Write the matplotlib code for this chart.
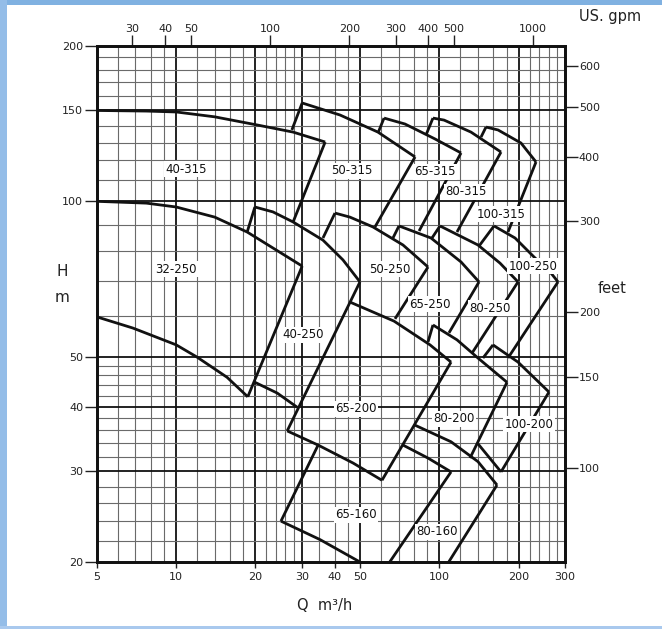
import matplotlib.pyplot as plt
from matplotlib.ticker import NullLocator
from matplotlib.patches import Rectangle

# pump selection chart, Q in m3/h and H in m (log-log)
q_ticks = [5, 10, 20, 30, 40, 50, 100, 200, 300]
h_ticks = [20, 30, 40, 50, 100, 150, 200]
gpm_ticks = [30, 40, 50, 100, 200, 300, 400, 500, 1000]
feet_ticks = [100, 150, 200, 300, 400, 500, 600]

grid_q_bold = [10, 20, 30, 50, 100, 200]
grid_q_thin = [6, 7, 8, 9, 12, 14, 16, 18, 22, 24, 26, 28, 35, 40, 45,
               60, 70, 80, 90, 120, 140, 160, 180, 220, 240, 260, 280]
grid_h_bold = [30, 40, 50, 100, 150]
grid_h_thin = [22, 24, 26, 28, 32, 34, 36, 38, 42, 44, 46, 48,
               60, 70, 80, 90, 110, 120, 130, 140, 160, 170, 180, 190]

GPM = 4.4029   # US gpm per m3/h
FT = 3.28084   # feet per m

# each pump: list of polylines (Q, H) as they are visible in the chart
pump_40_315 = [
    [(5, 150), (7.7, 149.6), (10, 149), (14, 145.8), (20.3, 140.6), (27.8, 136.2), (36.8, 130.3)],
    [(36.8, 130.3), (27.8, 91.2)],
]
pump_32_250 = [
    [(5, 100), (7.7, 99.2), (10, 97.5), (14, 93.2), (18.6, 87.2), (30.1, 74.9)],
    [(30.1, 74.9), (18.7, 41.8)],
    [(5, 59.7), (6.85, 56.8), (10, 52.7), (12, 49.9), (15.6, 45.6), (18.7, 41.8)],
]
pump_40_250 = [
    [(18.6, 87.2), (19.9, 97.5)],
    [(19.9, 97.5), (23.3, 95.4), (27.8, 91.2), (36.1, 84.1), (43.0, 77.0), (49.9, 69.8)],
    [(49.9, 69.8), (26.4, 35.9)],
    [(19.9, 44.6), (24.2, 42.5), (28.8, 39.9)],
]
pump_50_315 = [
    [(27.5, 137.5), (30.1, 155.1)],
    [(30.1, 155.1), (41.9, 147.0), (58.4, 136.2), (80.8, 121.9)],
    [(80.8, 121.9), (56.9, 89.2)],
]
pump_65_315 = [
    [(58.4, 135.6), (61.6, 145.0)],
    [(61.6, 145.0), (74.0, 141.2), (96.2, 132.1), (120.8, 124.1)],
    [(120.8, 124.1), (83.7, 87.6)],
]
pump_80_315 = [
    [(88.9, 134.4), (94.5, 145.0)],
    [(94.5, 145.0), (104.1, 143.7), (131.8, 136.2), (171.4, 124.6)],
    [(171.4, 124.6), (116.6, 87.2)],
]
pump_100_315 = [
    [(143.9, 133.2), (150.3, 139.3)],
    [(150.3, 139.3), (167.0, 137.5), (204.2, 129.7), (232.8, 119.2)],
    [(232.8, 119.2), (182.2, 87.2)],
]
pump_50_250 = [
    [(36.1, 84.9), (40.1, 94.9)],
    [(40.1, 94.9), (45.7, 93.2), (55.9, 89.2), (72.7, 82.3), (90.5, 74.6)],
    [(90.5, 74.6), (67.8, 59.2)],
]
pump_65_250 = [
    [(66.6, 84.9), (70.2, 89.6)],
    [(70.2, 89.6), (92.9, 84.9), (120.8, 76.3), (141.4, 69.8)],
    [(141.4, 69.8), (108.7, 55.6)],
]
pump_80_250 = [
    [(93.7, 84.9), (100.5, 89.6)],
    [(100.5, 89.6), (140.1, 82.3), (169.9, 75.9), (198.9, 69.8)],
    [(198.9, 69.8), (133.0, 50.8)],
]
pump_100_250 = [
    [(141.4, 81.9), (161.2, 89.6)],
    [(161.2, 89.6), (193.8, 84.9), (228.8, 78.0), (265.4, 72.6), (282.2, 69.8)],
    [(282.2, 69.8), (182.2, 49.7)],
]
pump_65_200 = [
    [(45.7, 63.8), (67.2, 58.6), (92.1, 52.7), (110.7, 48.8)],
    [(110.7, 48.8), (60.5, 28.8)],
    [(26.4, 35.9), (34.6, 33.7), (47.0, 31.1), (60.5, 28.8)],
]
pump_80_200 = [
    [(90.5, 53.4), (94.5, 57.6)],
    [(94.5, 57.6), (116.6, 53.9), (140.1, 49.7), (180.6, 44.6)],
    [(180.6, 44.6), (130.7, 31.8)],
]
pump_100_200 = [
    [(146.4, 49.7), (159.8, 52.7)],
    [(159.8, 52.7), (198.9, 48.8), (260.8, 42.7)],
    [(260.8, 42.7), (171.4, 29.9)],
    [(140.1, 33.9), (171.4, 29.9)],
]
pump_65_160 = [
    [(25.0, 24.0), (34.6, 33.7)],
    [(25.0, 24.0), (35.2, 22.1), (49.9, 20.0)],
    [(72.7, 33.7), (90.5, 31.8), (110.7, 29.9)],
    [(110.7, 29.9), (64.3, 19.9)],
]
pump_80_160 = [
    [(80.1, 36.9), (110.7, 34.2), (140.1, 31.3), (165.5, 28.2)],
    [(165.5, 28.2), (107.8, 19.9)],
]

label_names = ["40-315", "32-250", "50-315", "65-315", "80-315", "100-315",
               "50-250", "65-250", "80-250", "100-250", "40-250",
               "65-200", "80-200", "100-200", "65-160", "80-160"]
label_q = [10.9, 10.0, 46.5, 96.2, 126.2, 171.4, 64.9, 92.1, 155.7, 226.8, 30.3,
           48.2, 113.6, 218.9, 48.2, 97.9]
label_h = [115.5, 73.9, 114.5, 114.0, 104.3, 94.5, 73.9, 63.2, 62.1, 74.9, 55.1,
           39.6, 37.9, 37.0, 24.7, 22.9]

pumps = [pump_40_315, pump_32_250, pump_40_250, pump_50_315, pump_65_315,
         pump_80_315, pump_100_315, pump_50_250, pump_65_250, pump_80_250,
         pump_100_250, pump_65_200, pump_80_200, pump_100_200, pump_65_160,
         pump_80_160]

W, H = 662, 629
fig = plt.figure(figsize=(W / 100, H / 100), dpi=100)
ax = fig.add_axes([97 / W, 1 - 562 / H, 468 / W, 516 / H])

ax.set_xscale("log")
ax.set_yscale("log")
ax.set_xlim(5, 300)
ax.set_ylim(20, 200)

for q in grid_q_thin:
    ax.axvline(q, color="#6a6a6a", lw=0.8, zorder=1)
for q in grid_q_bold:
    ax.axvline(q, color="#111111", lw=1.3, zorder=1)
for h in grid_h_thin:
    ax.axhline(h, color="#6a6a6a", lw=0.8, zorder=1)
for h in grid_h_bold:
    ax.axhline(h, color="#111111", lw=1.3, zorder=1)

for pump in pumps:
    for seg in pump:
        xs = [p[0] for p in seg]
        ys = [p[1] for p in seg]
        ax.plot(xs, ys, color="#111111", lw=2.0, solid_joinstyle="miter",
                solid_capstyle="butt", zorder=3)

for name, q, h in zip(label_names, label_q, label_h):
    ax.text(q, h, name, ha="center", va="center", fontsize=8.5, color="#111111",
            zorder=4, bbox=dict(facecolor="white", edgecolor="none", pad=1.2))

tick_col = "#222222"
ax.set_xticks(q_ticks, labels=[str(v) for v in q_ticks])
ax.set_yticks(h_ticks, labels=[str(v) for v in h_ticks])
ax.xaxis.set_minor_locator(NullLocator())
ax.yaxis.set_minor_locator(NullLocator())
ax.tick_params(axis="x", direction="out", length=4, width=1, labelsize=8,
               colors=tick_col, pad=3)
ax.tick_params(axis="y", direction="out", length=9, width=1, labelsize=8,
               colors=tick_col, pad=1)
for sp in ax.spines.values():
    sp.set_linewidth(1.8)
    sp.set_color("#111111")

ax_top = ax.twiny()
ax_top.set_xscale("log")
ax_top.set_xlim(5 * GPM, 300 * GPM)
ax_top.set_xticks(gpm_ticks, labels=[str(v) for v in gpm_ticks])
ax_top.xaxis.set_minor_locator(NullLocator())
ax_top.tick_params(axis="x", direction="out", length=8, width=1, labelsize=8,
                   colors=tick_col, pad=1)

ax_right = ax.twinx()
ax_right.set_yscale("log")
ax_right.set_ylim(20 * FT, 200 * FT)
ax_right.set_yticks(feet_ticks, labels=[str(v) for v in feet_ticks])
ax_right.yaxis.set_minor_locator(NullLocator())
ax_right.tick_params(axis="y", direction="out", length=9, width=1, labelsize=8,
                     colors=tick_col, pad=1)
for a in (ax_top, ax_right):
    for sp in a.spines.values():
        sp.set_linewidth(1.8)
        sp.set_color("#111111")

fig.text(62 / W, 1 - 271 / H, "H", ha="center", va="center", fontsize=11, color="#222222")
fig.text(62 / W, 1 - 297 / H, "m", ha="center", va="center", fontsize=11, color="#222222")
fig.text(612 / W, 1 - 288 / H, "feet", ha="center", va="center", fontsize=10.5, color="#222222")
fig.text(610 / W, 1 - 17 / H, "US. gpm", ha="center", va="center", fontsize=10.5, color="#222222")
fig.text(325 / W, 1 - 605 / H, "Q  m\u00b3/h", ha="center", va="center", fontsize=10.5, color="#222222")

# light blue frame of the scan
fig.patches.append(Rectangle((0, 1 - 5 / H), 1, 5 / H, transform=fig.transFigure,
                             facecolor="#80b1e1", edgecolor="none"))
fig.patches.append(Rectangle((0, 0), 7 / W, 1, transform=fig.transFigure,
                             facecolor="#94bde8", edgecolor="none"))
fig.patches.append(Rectangle((0, 0), 1, 3 / H, transform=fig.transFigure,
                             facecolor="#a9c9ee", edgecolor="none"))

fig.savefig("out.png", dpi=100)
